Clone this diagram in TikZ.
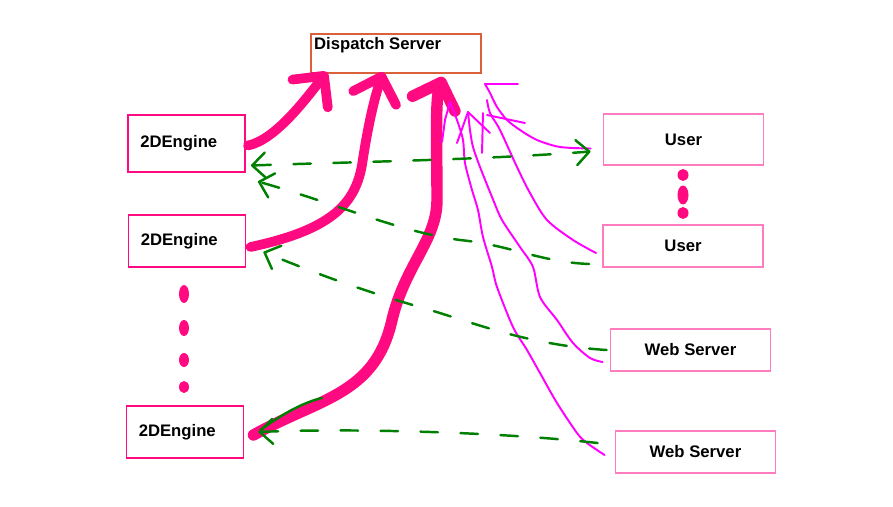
\documentclass[tikz,border=0pt]{standalone}
\usepackage{fontspec}
\setmainfont{Liberation Sans}
\usetikzlibrary{arrows.meta}
\definecolor{hotpink}{RGB}{255,10,128}
\definecolor{softpink}{RGB}{255,125,190}
\definecolor{dsorange}{RGB}{217,96,59}
\definecolor{wire}{RGB}{255,0,255}
\definecolor{reply}{RGB}{0,128,0}

\begin{document}
\begin{tikzpicture}[x=0.02cm, y=-0.02cm,
  every node/.style={font=\fontsize{9.5}{11}\selectfont\bfseries},
  engine/.style={draw=hotpink, line width=1.1pt, minimum width=2.34cm, minimum height=1.04cm, text width=1.85cm, align=left},
  client/.style={draw=softpink, line width=1.1pt, minimum width=3.2cm, minimum height=0.84cm},
  push/.style={hotpink, line width=5.5pt, line cap=round, -{Straight Barb[length=4.5mm, width=9mm, round]}},
  answer/.style={reply, line width=1.4pt, line cap=round, dash pattern=on 0.35cm off 0.45cm, -{Straight Barb[length=2.6mm, width=5mm, round]}},
  link/.style={wire, line width=1.1pt, line cap=round, line join=round}]
\useasboundingbox (0,0) rectangle (893,507);

% boxes
\node[draw=dsorange, line width=0.9pt, minimum width=3.4cm, minimum height=0.78cm,
  label={[anchor=north west, inner sep=2pt]north west:Dispatch Server}] (ds) at (396,53.5) {};
\node[engine, minimum height=1.14cm] (e1) at (186.5,143.5) {2DEngine};
\node[engine] (e2) at (187,241) {2DEngine};
\node[engine] (e3) at (185,432) {2DEngine};
\node[client, minimum height=1.02cm] (u1) at (683.5,139.5) {User};
\node[client] (u2) at (683,246) {User};
\node[client] (w1) at (690.5,350) {Web Server};
\node[client] (w2) at (695.5,452) {Web Server};

% dots
\foreach \y/\r in {294/0.18, 328/0.16, 360/0.14, 387/0.12}
  \fill[hotpink] (184,\y) ellipse (0.1cm and \r cm);
\foreach \y/\r in {175/0.12, 195/0.19, 213/0.12}
  \fill[hotpink] (683,\y) ellipse (0.11cm and \r cm);

% engines to dispatch
\coordinate (t1) at (327,72);
\coordinate (t2) at (383,72);
\coordinate (t3) at (443,77);
\draw[push] ([shift={(2,2)}]e1.east) .. controls (275,140) and (305,100) .. (t1);
\draw[push] ([shift={(4,6)}]e2.east) .. controls (330,230) and (355,205) .. (362,165)
  .. controls (368,125) and (374,100) .. (t2);
\draw[push, line width=6.5pt] ([shift={(9,3)}]e3.east) .. controls (320,398) and (375,395) .. (392,320)
  .. controls (405,265) and (437,240) .. (437,200) .. controls (437,150) and (435,100) .. (t3);

% users and web servers to dispatch
\draw[link] plot[smooth] coordinates {([shift={(-12,9)}]u1.west) (560,147) (537,140) (520,130) (507,120) (497,107) (490,93) (485,84)} -- (518,84);
\draw[link] plot[smooth] coordinates {([shift={(-6,7)}]u2.west) (573,240) (547,220) (530,193) (517,167) (500,130) (490,113) (487,100)};
\draw[link] plot[smooth] coordinates {([shift={(-7,12)}]w1.west) (590,358) (573,343) (557,320) (540,297) (533,267) (520,247) (502,220) (492,197) (480,167) (473,147) (470,130) (468,112)};
\draw[link] plot[smooth] coordinates {([shift={(-10,3)}]w2.west) (587,443) (577,433) (557,403) (540,373) (527,350) (513,327) (497,287) (492,267) (483,237) (478,210) (472,190) (465,163) (463,140) (457,120) (450,102)};
\draw[link] (450,102) -- (445,120) -- (442,142);
\draw[link] (457,143) -- (468,112) -- (490,133);
\draw[link] (483,113) -- (482,153);
\draw[link] (487,115) -- (525,123);

% replies back to engines
\draw[answer, {Straight Barb[length=2.6mm, width=5mm, round]}-{Straight Barb[length=2.6mm, width=5mm, round]}]
  ([shift={(5,22)}]e1.east) .. controls (350,162) and (480,160) .. ([shift={(-12,12)}]u1.west);
\draw[answer] ([shift={(-13,18)}]u2.west) .. controls (540,262) and (510,245) .. (460,240)
  .. controls (400,232) and (340,205) .. ([shift={(12,38)}]e1.east);
\draw[answer] ([shift={(-3,0)}]w1.west) .. controls (530,345) and (480,325) .. (430,310)
  .. controls (360,290) and (320,275) .. ([shift={(17,11)}]e2.east);
\draw[answer] ([shift={(-17,-9)}]w2.west) .. controls (500,432) and (350,428) .. ([shift={(14,0)}]e3.east);
\draw[reply, line width=1.4pt, line cap=round] ([shift={(16,-2)}]e3.east) .. controls (285,412) and (305,402) .. (322,398);
\end{tikzpicture}
\end{document}
